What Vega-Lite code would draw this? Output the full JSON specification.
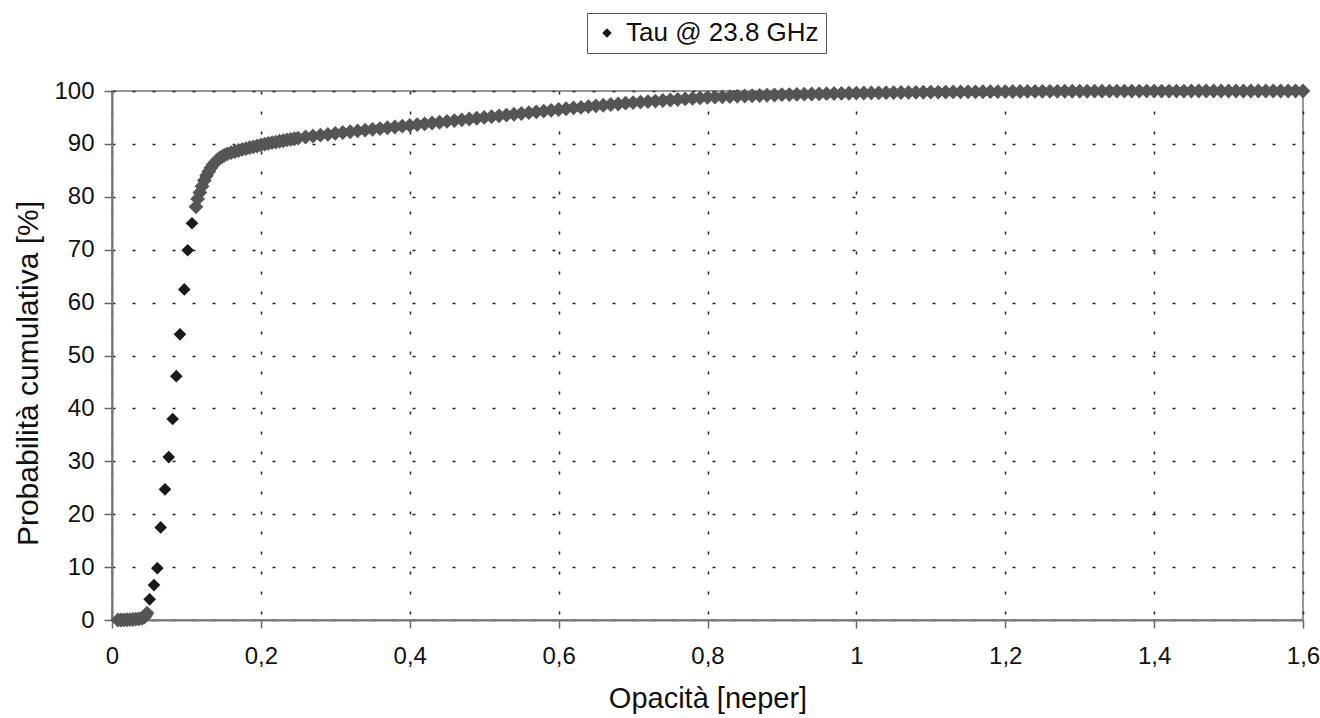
{
  "$schema": "https://vega.github.io/schema/vega-lite/v6.json",
  "autosize": {"type": "none"},
  "padding": {"left": 112, "top": 91, "right": 17, "bottom": 98},
  "width": 1191,
  "height": 529,
  "background": "white",
  "config": {
    "font": "Liberation Sans",
    "view": {"stroke": "#777", "strokeWidth": 1.5},
    "axis": {
      "domainColor": "#777", "domainWidth": 2,
      "tickColor": "#666", "tickSize": 8, "tickWidth": 1.5,
      "gridColor": "#222", "gridDash": [3, 17], "gridWidth": 1.5, "gridOpacity": 1,
      "labelFont": "Liberation Sans", "labelFontSize": 24, "labelColor": "#111",
      "titleFont": "Liberation Sans", "titleFontWeight": "normal", "titleColor": "#111"
    }
  },
  "data": {"values": [
    {"x":0.008,"y":0},{"x":0.012,"y":0},{"x":0.016,"y":0.02},{"x":0.02,"y":0.05},{"x":0.024,"y":0.08},{"x":0.028,"y":0.1},{"x":0.032,"y":0.15},{"x":0.036,"y":0.2},{"x":0.04,"y":0.3},{"x":0.043,"y":0.5},{"x":0.045,"y":0.8},{"x":0.047,"y":1.3},
    {"x":0.0506,"y":3.9},{"x":0.0564,"y":6.6},{"x":0.0609,"y":9.8},{"x":0.0654,"y":17.5},{"x":0.0712,"y":24.7},{"x":0.0762,"y":30.8},{"x":0.0815,"y":38.0},{"x":0.0864,"y":46.1},{"x":0.0913,"y":54.0},{"x":0.0971,"y":62.5},{"x":0.1017,"y":69.9},{"x":0.1075,"y":75.0},{"x":0.1128,"y":78.1},
    {"x":0.115,"y":79.6},{"x":0.118,"y":80.8},{"x":0.121,"y":82.0},{"x":0.124,"y":83.1},{"x":0.127,"y":84.0},{"x":0.130,"y":84.8},{"x":0.133,"y":85.5},{"x":0.136,"y":86.1},{"x":0.139,"y":86.6},{"x":0.142,"y":87.0},{"x":0.145,"y":87.35},{"x":0.148,"y":87.6},{"x":0.151,"y":87.85},{"x":0.155,"y":88.1},{"x":0.160,"y":88.35},{"x":0.165,"y":88.55},{"x":0.170,"y":88.75},{"x":0.175,"y":88.95},{"x":0.180,"y":89.1},{"x":0.185,"y":89.3},{"x":0.190,"y":89.45},{"x":0.195,"y":89.6},{"x":0.200,"y":89.8},{"x":0.205,"y":89.95},{"x":0.210,"y":90.1},{"x":0.215,"y":90.25},{"x":0.220,"y":90.35},{"x":0.225,"y":90.5},{"x":0.230,"y":90.6},{"x":0.235,"y":90.75},{"x":0.240,"y":90.85},{"x":0.245,"y":91.0},
    {"x":0.25,"y":91.1},{"x":0.26,"y":91.3},{"x":0.27,"y":91.5},{"x":0.28,"y":91.65},{"x":0.29,"y":91.8},{"x":0.30,"y":92.0},{"x":0.31,"y":92.15},{"x":0.32,"y":92.3},{"x":0.33,"y":92.45},{"x":0.34,"y":92.6},{"x":0.35,"y":92.75},{"x":0.36,"y":92.9},{"x":0.37,"y":93.05},{"x":0.38,"y":93.2},{"x":0.39,"y":93.35},{"x":0.40,"y":93.5},{"x":0.41,"y":93.65},{"x":0.42,"y":93.8},{"x":0.43,"y":93.95},{"x":0.44,"y":94.1},{"x":0.45,"y":94.25},{"x":0.46,"y":94.4},{"x":0.47,"y":94.55},{"x":0.48,"y":94.7},{"x":0.49,"y":94.85},{"x":0.50,"y":95.0},{"x":0.51,"y":95.15},{"x":0.52,"y":95.3},{"x":0.53,"y":95.45},{"x":0.54,"y":95.6},{"x":0.55,"y":95.75},{"x":0.56,"y":95.9},{"x":0.57,"y":96.05},{"x":0.58,"y":96.2},{"x":0.59,"y":96.35},{"x":0.60,"y":96.5},{"x":0.61,"y":96.65},{"x":0.62,"y":96.8},{"x":0.63,"y":96.9},{"x":0.64,"y":97.05},{"x":0.65,"y":97.2},{"x":0.66,"y":97.3},{"x":0.67,"y":97.45},{"x":0.68,"y":97.55},{"x":0.69,"y":97.7},{"x":0.70,"y":97.8},{"x":0.71,"y":97.9},{"x":0.72,"y":98.0},{"x":0.73,"y":98.1},{"x":0.74,"y":98.2},{"x":0.75,"y":98.3},{"x":0.76,"y":98.4},{"x":0.77,"y":98.5},{"x":0.78,"y":98.6},{"x":0.79,"y":98.7},{"x":0.80,"y":98.8},{"x":0.81,"y":98.85},{"x":0.82,"y":98.9},{"x":0.83,"y":98.95},{"x":0.84,"y":99.0},{"x":0.85,"y":99.05},{"x":0.86,"y":99.1},{"x":0.87,"y":99.15},{"x":0.88,"y":99.2},{"x":0.89,"y":99.25},{"x":0.90,"y":99.3},{"x":0.91,"y":99.33},{"x":0.92,"y":99.36},{"x":0.93,"y":99.4},{"x":0.94,"y":99.43},{"x":0.95,"y":99.46},{"x":0.96,"y":99.5},{"x":0.97,"y":99.52},{"x":0.98,"y":99.55},{"x":0.99,"y":99.57},
    {"x":1.00,"y":99.6},{"x":1.01,"y":99.62},{"x":1.02,"y":99.64},{"x":1.03,"y":99.66},{"x":1.04,"y":99.68},{"x":1.05,"y":99.7},{"x":1.06,"y":99.72},{"x":1.07,"y":99.73},{"x":1.08,"y":99.75},{"x":1.09,"y":99.76},{"x":1.10,"y":99.78},{"x":1.11,"y":99.79},{"x":1.12,"y":99.8},{"x":1.13,"y":99.82},{"x":1.14,"y":99.83},{"x":1.15,"y":99.84},{"x":1.16,"y":99.85},{"x":1.17,"y":99.86},{"x":1.18,"y":99.87},{"x":1.19,"y":99.88},{"x":1.20,"y":99.89},{"x":1.21,"y":99.9},{"x":1.22,"y":99.91},{"x":1.23,"y":99.92},{"x":1.24,"y":99.92},{"x":1.25,"y":99.93},{"x":1.26,"y":99.94},{"x":1.27,"y":99.94},{"x":1.28,"y":99.95},{"x":1.29,"y":99.95},{"x":1.30,"y":99.96},{"x":1.31,"y":99.96},{"x":1.32,"y":99.97},{"x":1.33,"y":99.97},{"x":1.34,"y":99.97},{"x":1.35,"y":99.98},{"x":1.36,"y":99.98},{"x":1.37,"y":99.98},{"x":1.38,"y":99.98},{"x":1.39,"y":99.99},{"x":1.40,"y":99.99},{"x":1.41,"y":99.99},{"x":1.42,"y":99.99},{"x":1.43,"y":99.99},{"x":1.44,"y":99.99},{"x":1.45,"y":100},{"x":1.46,"y":100},{"x":1.47,"y":100},{"x":1.48,"y":100},{"x":1.49,"y":100},{"x":1.50,"y":100},{"x":1.51,"y":100},{"x":1.52,"y":100},{"x":1.53,"y":100},{"x":1.54,"y":100},{"x":1.55,"y":100},{"x":1.56,"y":100},{"x":1.57,"y":100},{"x":1.58,"y":100},{"x":1.59,"y":100},{"x":1.60,"y":100}
  ]},
  "encoding": {
    "x": {
      "field": "x", "type": "quantitative",
      "scale": {"domain": [0, 1.6], "nice": false, "zero": true},
      "axis": {
        "values": [0, 0.2, 0.4, 0.6, 0.8, 1, 1.2, 1.4, 1.6],
        "labelExpr": "replace(format(datum.value, '.1~f'), '.', ',')",
        "labelPadding": 16, "labelFlush": false,
        "title": "Opacità [neper]", "titleFontSize": 29, "titlePadding": 16
      }
    },
    "y": {
      "field": "y", "type": "quantitative",
      "scale": {"domain": [0, 100], "nice": false},
      "axis": {
        "values": [0, 10, 20, 30, 40, 50, 60, 70, 80, 90, 100],
        "labelPadding": 10,
        "title": "Probabilità cumulativa [%]", "titleFontSize": 30, "titlePadding": 10, "titleY": 282
      }
    }
  },
  "layer": [
    {
      "mark": {"type": "point", "shape": "diamond", "filled": true, "size": 160, "opacity": 1, "strokeWidth": 0},
      "encoding": {
        "fill": {
          "datum": "Tau @ 23.8 GHz",
          "scale": {"range": ["#1a1a1a"]},
          "legend": {
            "title": null, "orient": "none", "legendX": 475, "legendY": -78,
            "strokeColor": "#555", "fillColor": "white", "padding": 7,
            "labelFont": "Liberation Sans", "labelFontSize": 26, "labelColor": "#111", "labelLimit": 400,
            "symbolType": "diamond", "symbolSize": 90, "symbolStrokeWidth": 0, "symbolFillColor": "#1a1a1a",
            "labelOffset": 6
          }
        }
      }
    },
    {
      "transform": [{"filter": "datum.x > 0.11 || datum.x < 0.048"}],
      "mark": {"type": "point", "shape": "diamond", "filled": true, "size": 220, "opacity": 1, "strokeWidth": 0, "fill": "#555555"}
    }
  ]
}
